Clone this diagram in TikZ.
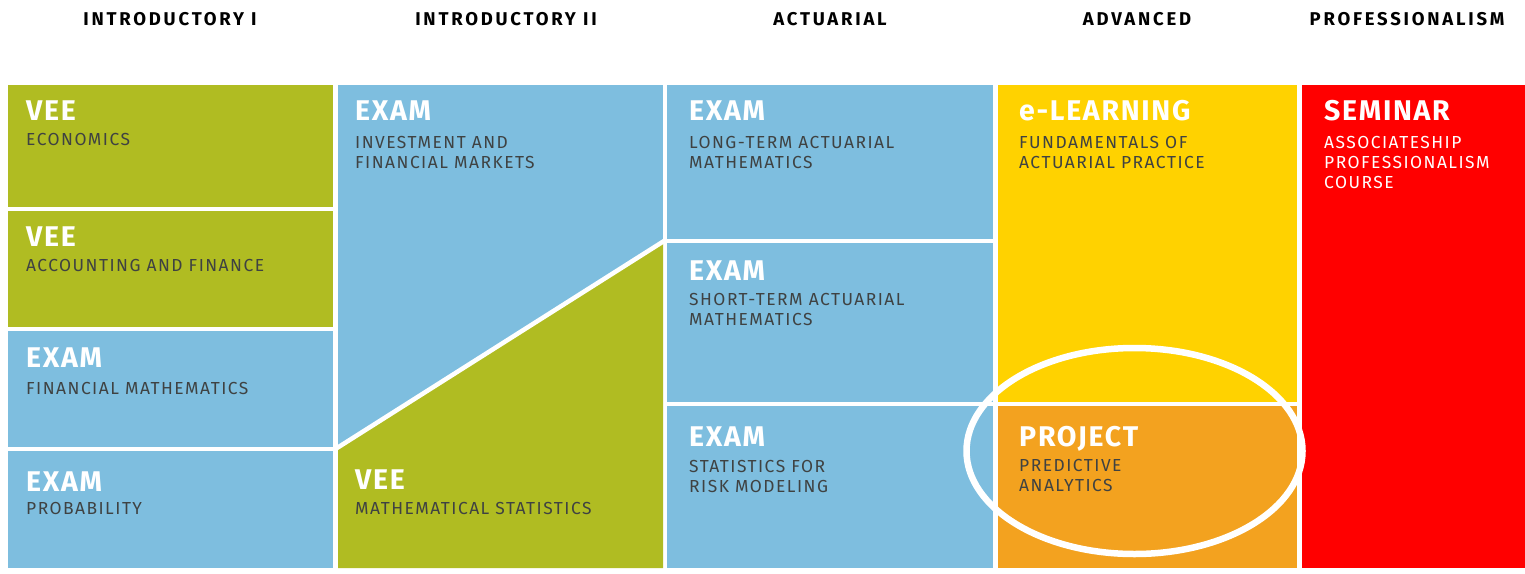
\documentclass[tikz,border=0pt]{standalone}
\usepackage{fontspec}
\setmainfont{Fira Sans}
\newfontfamily\hdrfont[LetterSpace=15]{Fira Sans}
\newfontfamily\ttlfont[LetterSpace=6]{Fira Sans}
\newfontfamily\subfont[LetterSpace=8.5]{Fira Sans}
\definecolor{olive}{HTML}{B0BC22}
\definecolor{skyb}{HTML}{7EBEDF}
\definecolor{yel}{HTML}{FFD200}
\definecolor{orng}{HTML}{F3A21F}
\definecolor{rd}{HTML}{FF0000}
\definecolor{subgray}{HTML}{3F4242}
\tikzset{
  hdr/.style={font=\hdrfont\bfseries\fontsize{18.5}{20}\selectfont, text=black, inner sep=0pt, anchor=base},
  ttl/.style={font=\ttlfont\bfseries\fontsize{28.5}{32}\selectfont, text=white, inner sep=0pt, anchor=base west},
  sub/.style={font=\subfont\fontsize{17.4}{20}\selectfont, text=subgray, inner sep=0pt, anchor=base west, align=left},
  subw/.style={sub, text=white}
}
\begin{document}
\begin{tikzpicture}[x=1pt,y=-1pt]
\useasboundingbox (0,0) rectangle (1525,573);
% headers
\node[hdr] (h1) at (170,25) {INTRODUCTORY I};
\node[hdr] (h2) at (506,25) {INTRODUCTORY II};
\node[hdr] (h3) at (830,25) {ACTUARIAL};
\node[hdr] (h4) at (1137,25) {ADVANCED};
\node[hdr] (h5) at (1407,25) {PROFESSIONALISM};
% column 1
\fill[olive] (8,85) rectangle (333,207);
\fill[olive] (8,211) rectangle (333,327);
\fill[skyb] (8,331) rectangle (333,447);
\fill[skyb] (8,451) rectangle (333,568);
% column 2
\fill[skyb] (338,85) rectangle (663,568);
\fill[olive] (338,448) -- (663,242) -- (663,568) -- (338,568) -- cycle;
\draw[white, line width=4.5pt] (337,448) -- (664,241);
% column 3
\fill[skyb] (667,85) rectangle (993,239);
\fill[skyb] (667,243) rectangle (993,402);
\fill[skyb] (667,406) rectangle (993,568);
% column 4
\fill[yel] (998,85) rectangle (1297,402);
\fill[orng] (998,406) rectangle (1297,568);
% column 5
\fill[rd] (1302,85) rectangle (1525,568);
% texts column 1
\node[ttl] (t11) at (26,120) {VEE};
\node[sub] (s11) at (26,145) {ECONOMICS};
\node[ttl] (t12) at (26,246) {VEE};
\node[sub] (s12) at (26,271) {ACCOUNTING AND FINANCE};
\node[ttl] (t13) at (26,367) {EXAM};
\node[sub] (s13) at (26,394) {FINANCIAL MATHEMATICS};
\node[ttl] (t14) at (26,491) {EXAM};
\node[sub] (s14) at (26,514) {PROBABILITY};
% column 2
\node[ttl] (t21) at (355,120) {EXAM};
\node[sub, anchor=north west] (s21) at (355,136) {INVESTMENT AND\\FINANCIAL MARKETS};
\node[ttl] (t22) at (355,489) {VEE};
\node[sub] (s22) at (355,514) {MATHEMATICAL STATISTICS};
% column 3
\node[ttl] (t31) at (689,120) {EXAM};
\node[sub, anchor=north west] (s31) at (689,136) {LONG-TERM ACTUARIAL\\MATHEMATICS};
\node[ttl] (t32) at (689,280) {EXAM};
\node[sub, anchor=north west] (s32) at (689,293) {SHORT-TERM ACTUARIAL\\MATHEMATICS};
\node[ttl] (t33) at (689,446) {EXAM};
\node[sub, anchor=north west] (s33) at (689,460) {STATISTICS FOR\\RISK MODELING};
% column 4
\node[ttl] (t41) at (1019,120) {e-LEARNING};
\node[sub, anchor=north west] (s41) at (1019,136) {FUNDAMENTALS OF\\ACTUARIAL PRACTICE};
\node[ttl] (t42) at (1019,446) {PROJECT};
\node[sub, anchor=north west] (s42) at (1019,459) {PREDICTIVE\\ANALYTICS};
% column 5
\node[ttl] (t51) at (1324,120) {SEMINAR};
\node[subw, anchor=north west] (s51) at (1324,136) {ASSOCIATESHIP\\PROFESSIONALISM\\COURSE};
% ellipse
\draw[white, line width=6.5pt] (1134.5,451) ellipse [x radius=168, y radius=103];
\end{tikzpicture}
\end{document}
